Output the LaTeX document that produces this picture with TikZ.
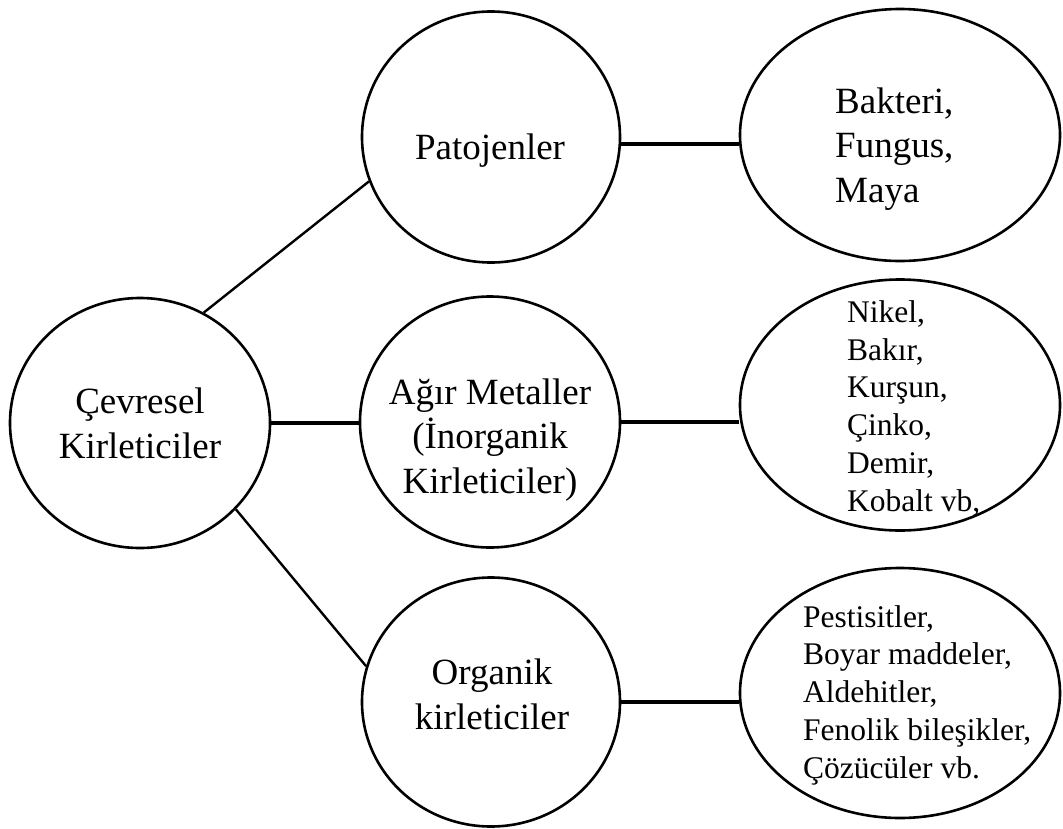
\documentclass[tikz,border=0pt]{standalone}
\usepackage{fontspec}
\setmainfont{Liberation Serif}
\usetikzlibrary{shapes.geometric}
\tikzset{
  blob/.style={ellipse, draw, line width=2.6pt, inner sep=0pt},
  diag/.style={line width=2.4pt},
  hline/.style={line width=3.6pt},
  bigtext/.style={inner sep=0pt, font=\fontsize{37}{44.5}\selectfont},
  listtext/.style={inner sep=0pt, align=left, anchor=base west, font=\fontsize{31.5}{37.7}\selectfont},
}
\begin{document}
\begin{tikzpicture}[x=1pt,y=-1pt]
\useasboundingbox (0,0) rectangle (1063,828);
% ellipses
\node[blob, minimum width=260pt, minimum height=250pt] (c) at (140,423) {};
\node[blob, minimum width=258pt, minimum height=251pt] (p) at (491,137) {};
\node[blob, minimum width=260pt, minimum height=251pt] (m) at (490,422) {};
\node[blob, minimum width=258pt, minimum height=249pt] (o) at (491,702) {};
\node[blob, minimum width=320pt, minimum height=252pt] (e1) at (900,135) {};
\node[blob, minimum width=320pt, minimum height=251pt] (e2) at (900,405) {};
\node[blob, minimum width=320pt, minimum height=250pt] (e3) at (900,693) {};
% texts (anchored at the baseline of their last line)
\node[bigtext, anchor=base] (tp) at (490,159) {Patojenler};
\node[bigtext, align=left, anchor=base west] (t1) at (835,202) {Bakteri,\\Fungus,\\Maya};
\node[bigtext, align=center, anchor=base] (tc) at (140,458) {Çevresel\\Kirleticiler};
\node[bigtext, align=center, anchor=base] (tm) at (490,493) {Ağır Metaller\\(İnorganik\\Kirleticiler)};
\node[bigtext, align=center, anchor=base] (to) at (492,729) {Organik\\kirleticiler};
\node[listtext] (t2) at (847,511) {Nikel,\\Bakır,\\Kurşun,\\Çinko,\\Demir,\\Kobalt vb,};
\node[listtext] (t3) at (803,778) {Pestisitler,\\Boyar maddeler,\\Aldehitler,\\Fenolik bileşikler,\\Çözücüler vb.};
% connectors
\draw[diag] (c.60) -- (p.200);
\draw[diag] (c.-42) -- (o.164);
\draw[hline] (c.east) -- (c.east -| m.west);
\draw[hline] (p.-3) -- (p.-3 -| e1.west);
\draw[hline] (m.east) -- (m.east -| e2.west);
\draw[hline] (o.east) -- (o.east -| e3.west);
\end{tikzpicture}
\end{document}
